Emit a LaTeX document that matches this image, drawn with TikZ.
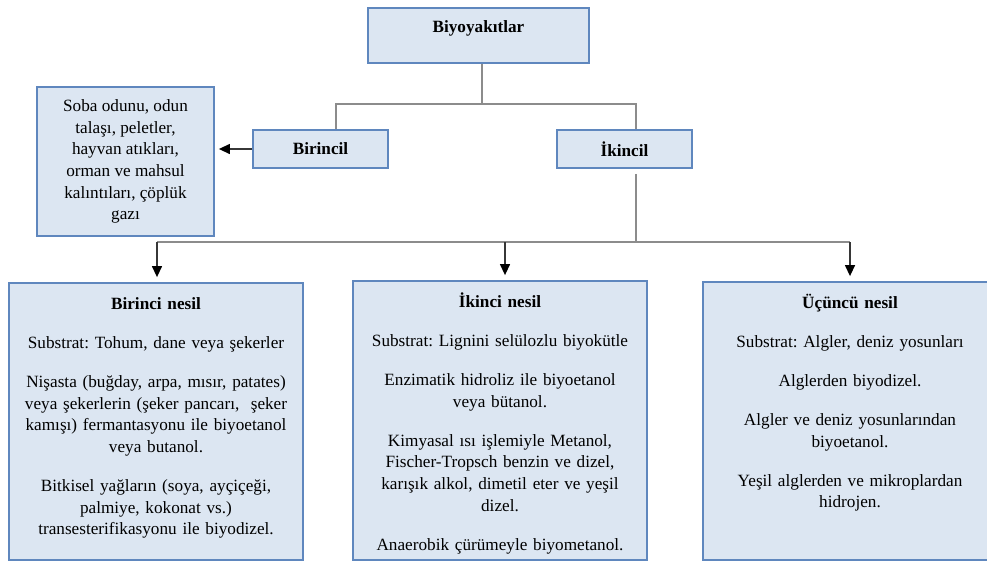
\documentclass[tikz,border=0pt]{standalone}
\usepackage{fontspec}
\setmainfont{Liberation Serif}
\usetikzlibrary{arrows.meta}
\definecolor{boxfill}{RGB}{220,230,242}
\definecolor{boxline}{RGB}{95,135,190}
\definecolor{connline}{RGB}{140,140,140}
\definecolor{arrline}{RGB}{55,55,55}
\frenchspacing
\tikzset{
  box/.style={rectangle, draw=boxline, fill=boxfill, line width=1.8pt, inner sep=0pt},
  conn/.style={draw=connline, line width=1.6pt},
  arr/.style={draw=arrline, line width=1.3pt, -{Triangle[width=10pt,length=11pt,color=black]}},
  txt/.style={inner sep=0pt, align=center},
  bodytxt/.style={txt, text width=290pt, anchor=north},
}
\begin{document}
\begin{tikzpicture}[x=1pt, y=-1pt, every node/.style={font=\fontsize{17.2}{21.7}\selectfont}]
\useasboundingbox (0,0) rectangle (987,562);
\clip (0,0) rectangle (987,562);

% top level and the two groups
\node[box, minimum width=221pt, minimum height=55pt] (root) at (478.5,35.5) {};
\node[txt, font=\fontsize{17.2}{21.7}\selectfont\bfseries] (roottxt) at ([yshift=7pt]root.center) {Biyoyakıtlar};
\node[box, minimum width=135pt, minimum height=38pt, font=\fontsize{17.2}{21.7}\selectfont\bfseries] (bir) at (320.5,149) {Birincil};
\node[box, minimum width=135pt, minimum height=38pt, font=\fontsize{17.2}{21.7}\selectfont\bfseries] (iki) at (624.5,149) {İkincil};

% primary sources
\node[box, minimum width=177pt, minimum height=149pt] (src) at (125.5,161.5) {};
\node[txt] (srctxt) at (src.center) {Soba odunu, odun\\ talaşı, peletler,\\ hayvan atıkları,\\ orman ve mahsul\\ kalıntıları, çöplük\\ gazı};

% the three generations
\node[box, minimum width=294pt, minimum height=277pt] (g1) at (156,421.5) {};
\node[box, minimum width=294pt, minimum height=279pt] (g2) at (500,420.5) {};
\node[box, minimum width=294pt, minimum height=278pt] (g3) at (850,421) {};

\node[bodytxt] (g1txt) at ([yshift=-12pt]g1.north) {\rule{0pt}{15pt}\textbf{Birinci nesil}\\[17.3pt]
  Substrat: Tohum, dane veya şekerler\\[17.3pt]
  Nişasta (buğday, arpa, mısır, patates)\\ veya şekerlerin (şeker pancarı,\ \ şeker\\ kamışı) fermantasyonu ile biyoetanol\\ veya butanol.\\[17.3pt]
  Bitkisel yağların (soya, ayçiçeği,\\ palmiye, kokonat vs.)\\ transesterifikasyonu ile biyodizel.};

\node[bodytxt] (g2txt) at ([yshift=-12pt]g2.north) {\rule{0pt}{15pt}\textbf{İkinci nesil}\\[17.3pt]
  Substrat: Lignini selülozlu biyokütle\\[17.3pt]
  Enzimatik hidroliz ile biyoetanol\\ veya bütanol.\\[17.3pt]
  Kimyasal ısı işlemiyle Metanol,\\ Fischer-Tropsch benzin ve dizel,\\ karışık alkol, dimetil eter ve yeşil\\ dizel.\\[17.3pt]
  Anaerobik çürümeyle biyometanol.};

\node[bodytxt] (g3txt) at ([yshift=-12pt]g3.north) {\rule{0pt}{15pt}\textbf{Üçüncü nesil}\\[17.3pt]
  Substrat: Algler, deniz yosunları\\[17.3pt]
  Alglerden biyodizel.\\[17.3pt]
  Algler ve deniz yosunlarından\\ biyoetanol.\\[17.3pt]
  Yeşil alglerden ve mikroplardan\\ hidrojen.};

% junctions of the tree lines
\coordinate (jl) at (336,104);
\coordinate (jr) at (636,104);
\coordinate (bl) at (157,242);
\coordinate (bm) at (505,242);
\coordinate (br) at (850,242);
\coordinate (bk) at (636,242);

% connectors
\draw[conn] ([xshift=3.5pt]root.south) -- ([xshift=3.5pt]root.south |- jl);
\draw[conn] (jl |- bir.north) -- (jl) -- (jr) -- (jr |- iki.north);
\draw[arr, shorten >=4pt] (bir.west) -- (bir.west -| src.east);
\draw[conn] ([xshift=11.5pt,yshift=-5pt]iki.south) -- (bk);
\draw[conn] (bl) -- (br);
\draw[arr, shorten >=5pt] (bl) -- (bl |- g1.north);
\draw[arr, shorten >=5pt] (bm) -- (bm |- g2.north);
\draw[arr, shorten >=5pt] (br) -- (br |- g3.north);
\end{tikzpicture}
\end{document}
